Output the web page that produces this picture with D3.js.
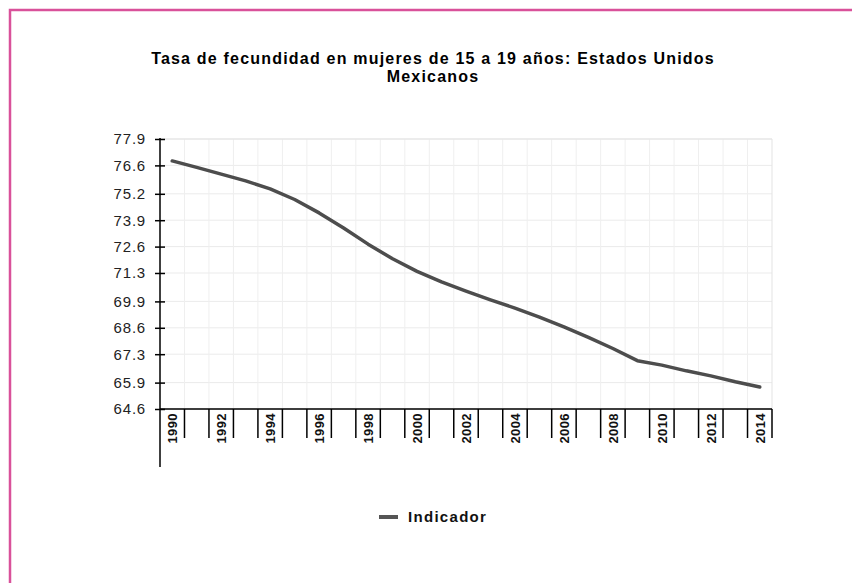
<!DOCTYPE html>
<html><head><meta charset="utf-8">
<script src="https://cdn.jsdelivr.net/npm/d3@7"></script>
<style>html,body{margin:0;padding:0;background:#fff;}svg{display:block;}</style>
</head><body>
<svg id="c" width="852" height="583"></svg>
<script>
const years = d3.range(1990, 2015);
const values = [76.82, 76.50, 76.17, 75.84, 75.44, 74.92, 74.26, 73.52, 72.72, 72.00, 71.38, 70.86, 70.41, 69.98, 69.57, 69.13, 68.64, 68.13, 67.58, 66.98, 66.76, 66.48, 66.23, 65.94, 65.68];
const yTicks = [64.6, 65.9, 67.3, 68.6, 69.9, 71.3, 72.6, 73.9, 75.2, 76.6, 77.9];
const titleLines = ["Tasa de fecundidad en mujeres de 15 a 19 años: Estados Unidos", "Mexicanos"];
const seriesName = "Indicador";

const FONT = "Liberation Sans, Arial, sans-serif";
const svg = d3.select("#c");
// pink frame (top and left visible)
svg.append("path").attr("d","M10,583 V10 H852").attr("fill","none").attr("stroke","#d9519a").attr("stroke-width",2.5);

const L=160, R=772, T=139, B=409;
const x = d3.scaleBand().domain(years).range([L,R]);
const y = d3.scaleLinear().domain([64.6,77.9]).range([B,T]);

// grid
const g = svg.append("g");
g.selectAll(".hg").data(yTicks).join("line")
 .attr("x1",L).attr("x2",R).attr("y1",d=>y(d)).attr("y2",d=>y(d))
 .attr("stroke","#ebebeb").attr("stroke-width",1);
g.selectAll(".vg").data(years.slice(1)).join("line")
 .attr("x1",d=>x(d)).attr("x2",d=>x(d)).attr("y1",T).attr("y2",B)
 .attr("stroke","#efefef").attr("stroke-width",1);
g.append("line").attr("x1",R).attr("x2",R).attr("y1",T).attr("y2",B).attr("stroke","#e3e3e3");
g.append("line").attr("x1",L).attr("x2",R).attr("y1",T).attr("y2",T).attr("stroke","#e3e3e3");

// y axis
const ya = svg.append("g").attr("transform",`translate(${L},0)`)
 .call(d3.axisLeft(y).tickValues(yTicks).tickFormat(d3.format(".1f")).tickSizeInner(5).tickSizeOuter(0));
ya.select(".domain").remove();
ya.selectAll(".tick line").attr("x1",-5).attr("x2",5).attr("stroke","#000").attr("stroke-width",1.5);
ya.selectAll(".tick text").attr("x",-14).attr("font-family",FONT).attr("font-size",15).attr("letter-spacing",0.8).attr("fill","#222");
svg.append("line").attr("x1",L).attr("x2",L).attr("y1",T-1).attr("y2",467).attr("stroke","#000").attr("stroke-width",1.5);

// x axis
const xa = svg.append("g").attr("transform",`translate(0,${B})`);
xa.append("line").attr("x1",L).attr("x2",R).attr("stroke","#000").attr("stroke-width",1.5);
xa.selectAll(".xt").data(years.slice(1).map(d=>x(d)).concat([R])).join("line")
 .attr("x1",d=>d).attr("x2",d=>d).attr("y1",0).attr("y2",29).attr("stroke","#000").attr("stroke-width",1.5);
xa.selectAll(".xl").data(years.filter(d=>d%2===0)).join("text")
 .attr("transform",d=>`translate(${x(d)+x.bandwidth()/2+5},4) rotate(-90)`)
 .attr("text-anchor","end")
 .attr("font-family",FONT).attr("font-size",13).attr("font-weight","bold").attr("letter-spacing",0.4).attr("fill","#111")
 .text(d=>d);

// line
const line = d3.line().x((d,i)=>x(years[i])+x.bandwidth()/2).y(d=>y(d));
svg.append("path").datum(values).attr("d",line).attr("fill","none").attr("stroke","#4d4d4d").attr("stroke-width",3.5).attr("stroke-linejoin","round").attr("stroke-linecap","round");

// title
svg.append("text").attr("text-anchor","middle")
 .attr("font-family",FONT).attr("font-size",16).attr("font-weight","bold").attr("letter-spacing",1.2).attr("fill","#000")
 .selectAll("tspan").data(titleLines).join("tspan").attr("x",433).attr("y",(d,i)=>64+i*18).text(d=>d);

// legend
svg.append("line").attr("x1",379).attr("x2",398).attr("y1",517).attr("y2",517).attr("stroke","#555").attr("stroke-width",4);
svg.append("text").attr("x",408).attr("y",522).attr("font-family",FONT).attr("font-size",15).attr("font-weight","bold").attr("letter-spacing",1.3).attr("fill","#111").text(seriesName);
</script>
</body></html>
